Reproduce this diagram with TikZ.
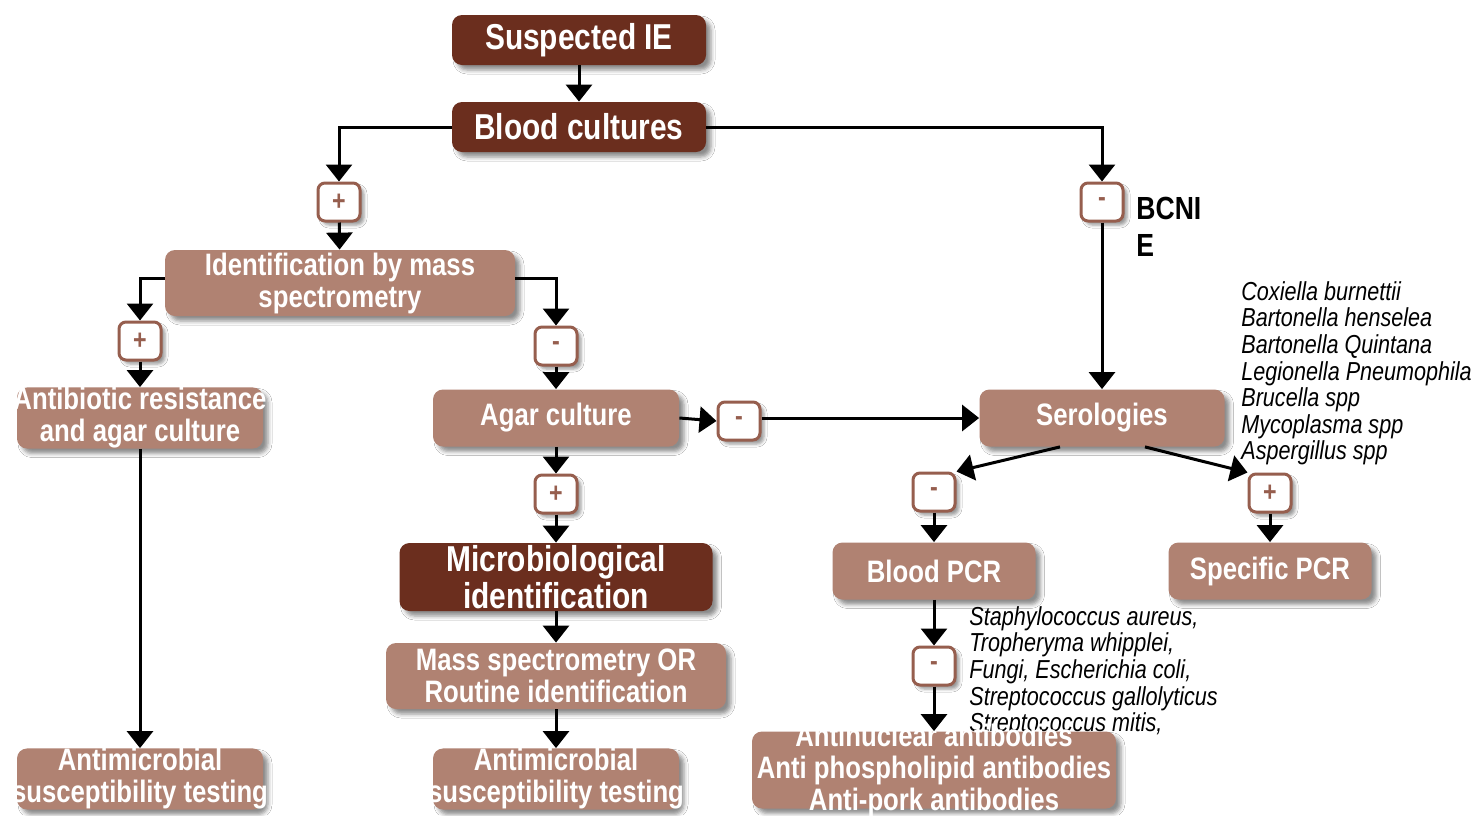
\documentclass[tikz,border=0pt]{standalone}
\usepackage{fontspec}
\setmainfont{Liberation Sans}[FakeStretch=0.83]
\usepackage{tikz}
\usetikzlibrary{positioning}
\usetikzlibrary{arrows.meta,shadows.blur}

\definecolor{darkbrown}{RGB}{107,46,30}
\definecolor{lightbrown}{RGB}{176,130,114}
\definecolor{signbrown}{RGB}{150,94,78}

\tikzset{
  box/.style={rounded corners=5pt, text=white, align=center, inner sep=0pt,
    font=\bfseries\fontsize{15.5}{16}\selectfont,
    blur shadow={shadow xshift=2.5pt, shadow yshift=-2.5pt, shadow opacity=45, shadow blur radius=2pt}},
  darkbox/.style={box, fill=darkbrown, font=\bfseries\fontsize{18}{18.5}\selectfont},
  lightbox/.style={box, fill=lightbrown},
  sign/.style={draw=signbrown, line width=1.5pt, fill=white, rounded corners=3.5pt,
    minimum width=21pt, minimum height=19pt, inner sep=0pt, text=signbrown,
    font=\bfseries\fontsize{14}{14}\selectfont,
    blur shadow={shadow xshift=2pt, shadow yshift=-2pt, shadow opacity=40, shadow blur radius=1.5pt}},
  arr/.style={line width=1.5pt, -{Triangle[width=13pt,length=8.5pt]}},
  species/.style={font=\itshape\fontsize{13}{13.3}\selectfont, align=left, anchor=north west, inner sep=0pt}
}

\begin{document}
\begin{tikzpicture}[x=0.5pt,y=-0.5pt]
  \useasboundingbox[fill=white] (0,0) rectangle (1478,815);

  % lists of organisms
  \node[species] (serolist) at (1241,281) {Coxiella burnettii\\Bartonella henselea\\Bartonella Quintana\\Legionella Pneumophila\\Brucella spp\\Mycoplasma spp\\Aspergillus spp};
  \node[species] (pcrlist) at (969,606) {Staphylococcus aureus,\\Tropheryma whipplei,\\Fungi, Escherichia coli,\\Streptococcus gallolyticus\\Streptococcus mitis,};

  \node[darkbox, minimum width=127pt, minimum height=25pt] (suspect) at (579,40) {Suspected IE};
  \node[darkbox, minimum width=127pt, minimum height=25pt] (blood) at (579,127) {Blood cultures};
  \node[sign] (pA) at (339,202) {+};
  \node[sign] (mA) at (1102,202) {-};
  \node[font=\bfseries\fontsize{16}{18.5}\selectfont, align=left, anchor=north west, inner sep=0pt] (bcnie) at (1136,197) {BCNI\\E};
  \node[lightbox, minimum width=175pt, minimum height=33pt] (ident) at (340,283) {Identification by mass\\spectrometry};
  \node[sign] (pB) at (140,341) {+};
  \node[sign] (mB) at (556,346) {-};
  \node[lightbox, minimum width=123pt, minimum height=28.5pt, inner xsep=-5pt] (abres) at (140,418) {Antibiotic resistance\\and agar culture};
  \node[lightbox, minimum width=123pt, minimum height=28.5pt] (agar) at (556,418) {Agar culture};
  \node[sign] (mC) at (739,421) {-};
  \node[lightbox, minimum width=122.5pt, minimum height=28.5pt] (sero) at (1102,418) {Serologies};
  \node[sign] (pC) at (556,494) {+};
  \node[darkbox, minimum width=156.5pt, minimum height=34pt] (micro) at (556,577) {Microbiological\\identification};
  \node[sign] (mD) at (934,492) {-};
  \node[sign] (pD) at (1270,493) {+};
  \node[lightbox, minimum width=101.5pt, minimum height=28.5pt] (bpcr) at (934,571) {Blood PCR};
  \node[lightbox, minimum width=101.5pt, minimum height=28.5pt] (spcr) at (1270,571) {Specific PCR};
  \node[lightbox, minimum width=170pt, minimum height=33pt] (msroutine) at (556,676) {Mass spectrometry OR\\Routine identification};
  \node[sign] (mE) at (934,666) {-};
  \node[lightbox, minimum width=182pt, minimum height=38.5pt, inner ysep=-5pt] (antib) at (934,770) {Antinuclear antibodies\\Anti phospholipid antibodies\\Anti-pork antibodies};
  \node[lightbox, minimum width=123pt, minimum height=29pt, inner xsep=-5pt] (astA) at (140,779) {Antimicrobial\\susceptibility testing};
  \node[lightbox, minimum width=123pt, minimum height=29pt, inner xsep=-5pt] (astB) at (556,779) {Antimicrobial\\susceptibility testing};

  \draw[arr] (suspect) -- (blood);
  \draw[arr] (blood.west) -| (pA.north);
  \draw[arr] (pA) -- (ident);
  \draw[arr] (blood.east) -| (mA.north);
  \draw[arr] (mA) -- (sero);
  \draw[arr] ([yshift=2.5pt]ident.west) -| (pB.north);
  \draw[arr] ([yshift=2.5pt]ident.east) -| (mB.north);
  \draw[arr] (pB) -- (abres);
  \draw[arr] (mB) -- (agar);
  \draw[arr] (agar.east) -- (mC.west);
  \draw[arr] ([yshift=1.5pt]mC.east) -- (sero.west);
  \draw[arr] (agar) -- (pC);
  \draw[arr] (pC) -- (micro);
  \draw[arr] (micro) -- (msroutine);
  \draw[arr] (msroutine) -- (astB);
  \draw[arr] (abres) -- (astA);
  \draw[arr] ([xshift=-21pt]sero.south) -- (mD.north east);
  \draw[arr] ([xshift=21.5pt]sero.south) -- (pD.north west);
  \draw[arr] (mD) -- (bpcr);
  \draw[arr] (pD) -- (spcr);
  \draw[arr] (bpcr) -- (mE);
  \draw[arr] (mE) -- (antib);
\end{tikzpicture}
\end{document}
